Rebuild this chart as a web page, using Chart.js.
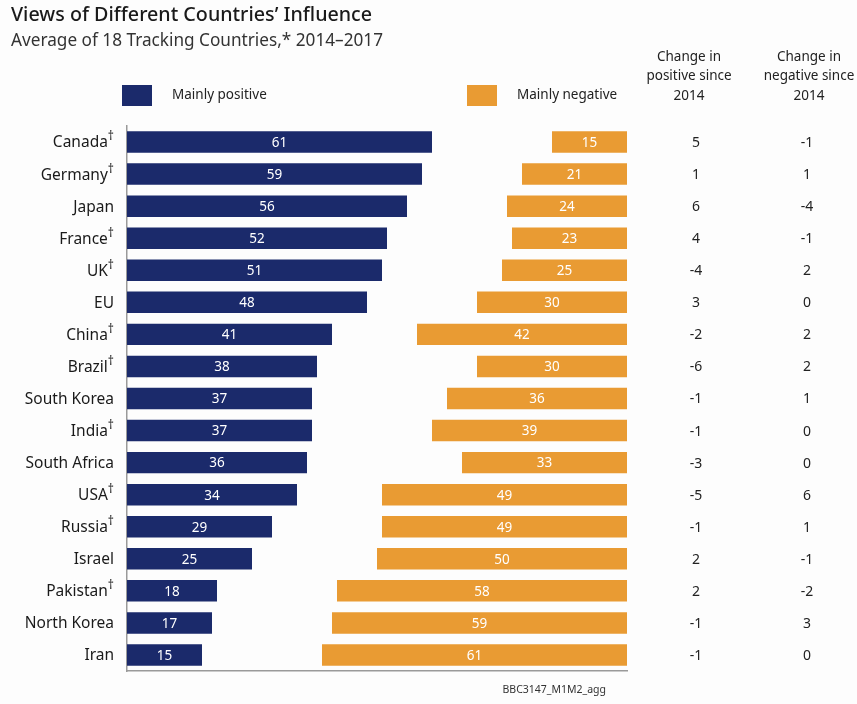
<!DOCTYPE html>
<html>
<head>
<meta charset="utf-8">
<script src="https://cdn.jsdelivr.net/npm/chart.js@4.4.1/dist/chart.umd.min.js"></script>
<style>
  html, body { margin: 0; padding: 0; background: #fdfdfd; }
  #wrap { width: 857px; height: 704px; position: relative; }
</style>
</head>
<body>
<div id="wrap"><canvas id="chart" width="857" height="704"></canvas></div>
<script>
// Dados do gráfico
const countries = ['Canada', 'Germany', 'Japan', 'France', 'UK', 'EU', 'China', 'Brazil', 'South Korea',
    'India', 'South Africa', 'USA', 'Russia', 'Israel', 'Pakistan', 'North Korea', 'Iran'];
const dagger = [true, true, false, true, true, false, true, true, false,
    true, false, true, true, false, true, false, false];
const positive = [61, 59, 56, 52, 51, 48, 41, 38, 37, 37, 36, 34, 29, 25, 18, 17, 15];
const negative = [15, 21, 24, 23, 25, 30, 42, 30, 36, 39, 33, 49, 49, 50, 58, 59, 61];
const changePositive = ['5', '1', '6', '4', '-4', '3', '-2', '-6', '-1', '-1', '-3', '-5', '-1', '2', '2', '-1', '-1'];
const changeNegative = ['-1', '1', '-4', '-1', '2', '0', '2', '2', '1', '0', '0', '6', '1', '-1', '-2', '3', '0'];

const NAVY = '#1b2a6b';
const ORANGE = '#e99b33';
const FONT = '"Noto Sans", sans-serif';

// Textos extras: título, legenda, rótulos e colunas da direita
const textPlugin = {
    id: 'textPlugin',
    afterDraw(chart) {
        const ctx = chart.ctx;
        const xs = chart.scales.x;
        const ys = chart.scales.y;
        ctx.save();

        // título
        ctx.textBaseline = 'alphabetic';
        ctx.textAlign = 'left';
        ctx.fillStyle = '#1a1a1a';
        ctx.font = '500 19.7px ' + FONT;
        ctx.fillText('Views of Different Countries\u2019 Influence', 11, 21);
        ctx.fillStyle = '#333';
        ctx.font = '17.2px ' + FONT;
        ctx.fillText('Average of 18 Tracking Countries,* 2014\u20132017', 11, 46);

        // legenda
        ctx.textBaseline = 'middle';
        ctx.fillStyle = NAVY;
        ctx.fillRect(122, 85, 30, 21);
        ctx.fillStyle = ORANGE;
        ctx.fillRect(467, 85, 30, 21);
        ctx.fillStyle = '#222';
        ctx.font = '13.5px ' + FONT;
        ctx.fillText('Mainly positive', 172, 95);
        ctx.fillText('Mainly negative', 517, 95);

        // cabeçalhos das colunas
        ctx.textAlign = 'center';
        const heads = [['Change in', 'positive since', '2014'], ['Change in', 'negative since', '2014']];
        const hx = [689, 809];
        heads.forEach((lines, i) => {
            lines.forEach((t, j) => ctx.fillText(t, hx[i], 57 + j * 19.5));
        });

        countries.forEach((name, i) => {
            const y = ys.getPixelForValue(i);

            // nomes dos países (com adaga sobrescrita)
            ctx.fillStyle = '#1a1a1a';
            ctx.textAlign = 'right';
            let right = 114;
            if (dagger[i]) {
                ctx.font = '12px ' + FONT;
                ctx.fillText('\u2020', right, y - 5);
                right -= ctx.measureText('\u2020').width;
            }
            ctx.font = '15.5px ' + FONT;
            ctx.fillText(name, right, y + 1);

            // colunas de variação
            ctx.textAlign = 'center';
            ctx.font = '14px ' + FONT;
            ctx.fillStyle = '#222';
            ctx.fillText(changePositive[i], 696, y + 1);
            ctx.fillText(changeNegative[i], 807, y + 1);

            // valores dentro das barras
            ctx.fillStyle = '#ffffff';
            ctx.font = '13.5px ' + FONT;
            const p0 = xs.getPixelForValue(0), p1 = xs.getPixelForValue(positive[i]);
            ctx.fillText(String(positive[i]), (p0 + p1) / 2, y + 1);
            const n0 = xs.getPixelForValue(100 - negative[i]), n1 = xs.getPixelForValue(100);
            ctx.fillText(String(negative[i]), (n0 + n1) / 2, y + 1);
        });

        // código no rodapé
        ctx.textAlign = 'right';
        ctx.fillStyle = '#333';
        ctx.font = '10.5px ' + FONT;
        ctx.fillText('BBC3147_M1M2_agg', 606, 690);

        ctx.restore();
    }
};

new Chart(document.getElementById('chart'), {
    type: 'bar',
    data: {
        labels: countries,
        datasets: [
            {
                label: 'Mainly positive',
                data: positive.map(v => [0, v]),
                backgroundColor: NAVY,
                grouped: false,
                barPercentage: 0.67,
                categoryPercentage: 1
            },
            {
                label: 'Mainly negative',
                data: negative.map(v => [100 - v, 100]),
                backgroundColor: ORANGE,
                grouped: false,
                barPercentage: 0.67,
                categoryPercentage: 1
            }
        ]
    },
    options: {
        indexAxis: 'y',
        responsive: false,
        animation: false,
        layout: { padding: { left: 127, right: 230, top: 126, bottom: 33 } },
        plugins: {
            legend: { display: false },
            tooltip: { enabled: false }
        },
        scales: {
            x: {
                min: 0,
                max: 100,
                ticks: { display: false },
                grid: { display: false },
                border: { display: true, color: '#9a9a9a', width: 1.5 },
                afterFit: s => { s.height = 0; }
            },
            y: {
                ticks: { display: false },
                grid: { display: false },
                border: { display: true, color: '#9a9a9a', width: 1.5 },
                afterFit: s => { s.width = 0; }
            }
        }
    },
    plugins: [textPlugin]
});
</script>
</body>
</html>
